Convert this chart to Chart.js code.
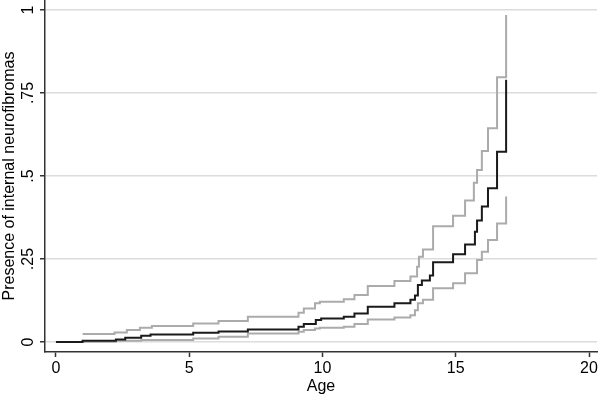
<!DOCTYPE html>
<html>
<head>
<meta charset="utf-8">
<script src="https://cdn.jsdelivr.net/npm/chart.js@4"></script>
<style>
  html, body { margin: 0; padding: 0; background: #fff; }
  #wrap { width: 600px; height: 396px; }
</style>
</head>
<body>
<div id="wrap"><canvas id="myChart" width="600" height="396"></canvas></div>
<script>
// step points: value starts at that age
const ageEst = [0, 1.0, 2.25, 2.6, 3.2, 3.55, 5.15, 6.1, 7.2, 9.1, 9.3, 9.75, 9.95, 10.8, 11.2, 11.7, 12.7, 13.3, 13.47, 13.58, 13.73, 14.03, 14.15, 14.9, 15.35, 15.72, 15.8, 15.98, 16.21, 16.55, 16.89];
const est = [0, 0.004, 0.008, 0.013, 0.019, 0.023, 0.028, 0.032, 0.038, 0.046, 0.054, 0.066, 0.071, 0.076, 0.086, 0.106, 0.117, 0.127, 0.14, 0.172, 0.185, 0.2, 0.24, 0.264, 0.294, 0.332, 0.366, 0.408, 0.463, 0.573, 0.79];

const ageUp = [1.0, 2.2, 2.66, 3.15, 3.6, 5.15, 6.1, 7.2, 9.1, 9.3, 9.72, 9.9, 10.8, 11.2, 11.7, 12.7, 13.3, 13.55, 13.62, 13.77, 14.15, 14.9, 15.35, 15.68, 15.8, 15.98, 16.21, 16.55, 16.89];
const upper = [0.024, 0.029, 0.036, 0.043, 0.048, 0.056, 0.063, 0.076, 0.088, 0.101, 0.117, 0.121, 0.129, 0.142, 0.169, 0.184, 0.197, 0.227, 0.257, 0.279, 0.349, 0.38, 0.426, 0.48, 0.518, 0.575, 0.644, 0.797, 0.985];

const ageLo = [1.0, 2.25, 3.2, 5.15, 6.1, 7.2, 9.1, 9.3, 9.72, 9.9, 10.8, 11.2, 11.7, 12.7, 13.3, 13.47, 13.58, 13.77, 14.15, 14.9, 15.35, 15.8, 15.98, 16.21, 16.55, 16.89];
const lower = [0.001, 0.004, 0.006, 0.011, 0.016, 0.026, 0.031, 0.036, 0.041, 0.043, 0.046, 0.054, 0.068, 0.074, 0.081, 0.096, 0.117, 0.127, 0.162, 0.177, 0.207, 0.247, 0.272, 0.307, 0.357, 0.438];

const xTicks = [0, 5, 10, 15, 20];
const yTicks = [0, 0.25, 0.5, 0.75, 1];
const yTickLabels = ['0', '.25', '.5', '.75', '1'];

const fontFamily = "Arial, 'Liberation Sans', sans-serif";

function toPoints(xs, ys) {
    return xs.map((x, i) => ({ x: x, y: ys[i] }));
}

const ctx = document.getElementById('myChart');
const myChart = new Chart(ctx, {
    type: 'line',
    data: {
        datasets: [
            {
                label: 'Estimate',
                data: toPoints(ageEst, est),
                borderColor: '#1a1a1a',
                borderWidth: 2,
                stepped: 'before',
                pointRadius: 0,
                fill: false
            },
            {
                label: 'Upper',
                data: toPoints(ageUp, upper),
                borderColor: '#ababab',
                borderWidth: 2,
                stepped: 'before',
                pointRadius: 0,
                fill: false
            },
            {
                label: 'Lower',
                data: toPoints(ageLo, lower),
                borderColor: '#ababab',
                borderWidth: 2,
                stepped: 'before',
                pointRadius: 0,
                fill: false
            }
        ]
    },
    options: {
        responsive: false,
        animation: false,
        devicePixelRatio: 1,
        layout: { padding: { top: 0, right: 3, bottom: 0, left: 0 } },
        plugins: {
            legend: { display: false },
            tooltip: { enabled: false }
        },
        scales: {
            x: {
                type: 'linear',
                min: -0.41,
                max: 20.3,
                afterBuildTicks: function (scale) {
                    scale.ticks = xTicks.map(v => ({ value: v }));
                },
                afterFit: function (scale) {
                    scale.height = 44;
                    scale.paddingLeft = 0;
                    scale.paddingRight = 0;
                },
                border: { display: true, color: '#333', width: 1.5 },
                grid: {
                    drawOnChartArea: false,
                    drawTicks: true,
                    tickLength: 5,
                    tickColor: '#333',
                    tickWidth: 1.5
                },
                ticks: {
                    color: '#000',
                    padding: 2,
                    maxRotation: 0,
                    font: { family: fontFamily, size: 16 }
                },
                title: {
                    display: true,
                    text: 'Age',
                    color: '#000',
                    padding: { top: 0, bottom: 0 },
                    font: { family: fontFamily, size: 16 }
                }
            },
            y: {
                type: 'linear',
                min: -0.03,
                max: 1.03,
                afterBuildTicks: function (scale) {
                    scale.ticks = yTicks.map(v => ({ value: v }));
                },
                afterFit: function (scale) {
                    scale.width = 45;
                    scale.paddingTop = 0;
                    scale.paddingBottom = 0;
                },
                border: { display: true, color: '#333', width: 1.5 },
                grid: {
                    color: '#dcdcdc',
                    lineWidth: 1.5,
                    drawTicks: true,
                    tickLength: 5,
                    tickColor: '#333',
                    tickWidth: 1.5
                },
                ticks: {
                    color: '#000',
                    padding: 0,
                    minRotation: 90,
                    maxRotation: 90,
                    crossAlign: 'center',
                    font: { family: fontFamily, size: 16 },
                    callback: function (value) {
                        const i = yTicks.indexOf(value);
                        return i >= 0 ? yTickLabels[i] : '';
                    }
                },
                title: {
                    display: true,
                    text: 'Presence of internal neurofibromas',
                    color: '#000',
                    padding: { top: 0, bottom: 0 },
                    font: { family: fontFamily, size: 16 }
                }
            }
        }
    }
});
</script>
</body>
</html>
